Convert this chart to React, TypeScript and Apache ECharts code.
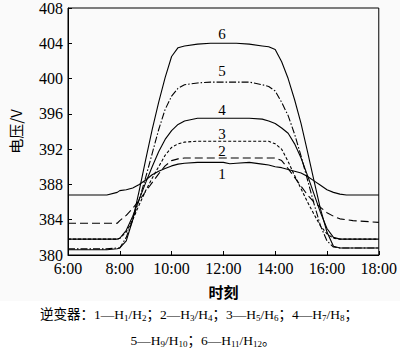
import React, { useEffect, useRef } from "react";
import * as echarts from "echarts";

// Time of day (hours) sampled for all curves
const hours = [6, 7.5, 7.9, 8, 8.25, 8.5, 8.75, 9, 9.25, 9.5, 9.75, 10, 10.25, 10.5, 11, 11.5, 12, 12.25, 12.5, 13, 13.5, 13.75, 14, 14.25, 14.5, 14.75, 15, 15.25, 15.5, 15.75, 16, 16.25, 16.5, 16.75, 17, 18];

// Voltage (V) per inverter pair
const curve1 = [386.8, 386.8, 387.1, 387.3, 387.4, 387.6, 388.0, 388.5, 389.1, 389.5, 389.8, 390.1, 390.3, 390.4, 390.5, 390.5, 390.5, 390.35, 390.4, 390.5, 390.3, 390.2, 390.0, 389.9, 389.7, 389.5, 389.3, 388.9, 388.4, 387.9, 387.4, 387.1, 386.9, 386.8, 386.8, 386.8];
const curve2 = [383.6, 383.6, 383.6, 383.9, 384.5, 385.3, 386.2, 387.2, 388.2, 389.2, 390.1, 390.7, 390.9, 391.0, 391.0, 391.0, 391.0, 391.0, 391.0, 391.0, 391.0, 391.0, 391.0, 390.7, 389.8, 388.8, 387.8, 386.8, 386.0, 385.4, 384.8, 384.4, 384.1, 384.0, 383.9, 383.7];
const curve3 = [381.8, 381.8, 381.8, 381.9, 382.6, 384.0, 385.7, 387.3, 388.7, 390.0, 391.3, 392.2, 392.6, 392.8, 392.9, 392.9, 392.9, 392.9, 392.9, 392.9, 392.9, 392.9, 392.6, 392.0, 390.6, 389.0, 387.5, 386.0, 384.6, 383.3, 382.4, 381.9, 381.8, 381.8, 381.8, 381.8];
const curve4 = [381.8, 381.8, 381.8, 381.9, 382.8, 384.4, 386.3, 388.2, 390.0, 391.7, 393.1, 394.1, 394.8, 395.2, 395.5, 395.5, 395.5, 395.5, 395.5, 395.5, 395.4, 395.2, 394.9, 394.4, 393.8, 392.6, 391.0, 389.0, 386.9, 384.8, 383.0, 382.0, 381.8, 381.8, 381.8, 381.8];
const curve5 = [380.7, 380.7, 380.8, 380.8, 382.0, 384.0, 386.3, 388.8, 391.5, 394.2, 396.5, 398.0, 398.9, 399.3, 399.5, 399.6, 399.6, 399.6, 399.6, 399.6, 399.3, 399.1, 398.6, 397.3, 395.8, 393.7, 391.2, 388.5, 385.8, 383.3, 381.6, 380.9, 380.8, 380.8, 380.8, 380.8];
const curve6 = [380.6, 380.6, 380.7, 380.8, 381.6, 384.0, 387.3, 390.8, 394.2, 397.3, 400.1, 402.5, 403.5, 403.7, 403.9, 404.0, 404.0, 404.0, 404.0, 403.9, 403.7, 403.6, 403.3, 401.9, 400.0, 397.6, 394.9, 391.7, 388.4, 385.2, 382.6, 381.0, 380.8, 380.8, 380.8, 380.8];

const curveNames = ["1", "2", "3", "4", "5", "6"];
const labelHour = 11.95;
const labelValues = [389.2, 391.8, 393.7, 396.4, 400.9, 405.0];

const xMin = 6;
const xMax = 18;
const xStep = 2;
const yMin = 380;
const yMax = 408;
const yStep = 4;

const xTitle = "时刻";
const yTitle = "电压/V";
const captionLine1 = "逆变器：1—H{s|1}/H{s|2}；2—H{s|3}/H{s|4}；3—H{s|5}/H{s|6}；4—H{s|7}/H{s|8}；";
const captionLine2 = "5—H{s|9}/H{s|10}；6—H{s|11}/H{s|12}。";

const serif = "'Liberation Serif', 'Times New Roman', 'Noto Sans CJK SC', serif";
const cjk = "'Noto Sans CJK SC', 'Liberation Serif', sans-serif";

const lineTypes: any[] = ["solid", [8, 4], [3, 2], "solid", [7, 2, 1.5, 2], "solid"];

export default function App() {
  const ref = useRef<HTMLDivElement>(null);
  useEffect(() => {
    if (!ref.current) return;
    const chart = echarts.init(ref.current, undefined, { renderer: "svg" });
    const curves = [curve1, curve2, curve3, curve4, curve5, curve6];
    const series = curves.map((c, i) => ({
      type: "line",
      name: curveNames[i],
      data: hours.map((h, j) => [h, c[j]]),
      showSymbol: false,
      symbol: "none",
      smooth: false,
      lineStyle: { color: "#000", width: 1.1, type: lineTypes[i] },
      markPoint: {
        symbol: "circle",
        symbolSize: 0,
        silent: true,
        data: [{ coord: [labelHour, labelValues[i]], value: curveNames[i] }],
        label: {
          show: true,
          position: "inside",
          formatter: curveNames[i],
          color: "#000",
          fontSize: 15,
          fontFamily: serif,
        },
      },
    }));
    const axisCommon = {
      axisLine: { show: true, lineStyle: { color: "#000", width: 1 } },
      axisTick: { show: true, inside: true, length: 4, lineStyle: { color: "#000" } },
      splitLine: { show: false },
    };
    chart.setOption({
      animation: false,
      backgroundColor: "#fafafa",
      grid: { left: 55, right: 17, top: 5, bottom: 99, show: true, borderColor: "#000", borderWidth: 1 },
      xAxis: {
        type: "value",
        min: xMin,
        max: xMax,
        interval: xStep,
        ...axisCommon,
        axisLabel: {
          color: "#000",
          fontSize: 16,
          fontFamily: serif,
          margin: 5,
          formatter: (v: number) => `${v}:00`,
        },
        name: xTitle,
        nameLocation: "middle",
        nameGap: 29,
        nameTextStyle: { color: "#000", fontSize: 15, fontWeight: "bold", fontFamily: cjk },
      },
      yAxis: {
        type: "value",
        min: yMin,
        max: yMax,
        interval: yStep,
        ...axisCommon,
        axisLabel: { color: "#000", fontSize: 16, fontFamily: serif, margin: 5 },
        name: yTitle,
        nameLocation: "middle",
        nameGap: 45,
        nameTextStyle: { color: "#000", fontSize: 15, fontFamily: cjk },
      },
      graphic: [
        {
          type: "rect",
          z: -10,
          silent: true,
          shape: { x: 0, y: 301, width: 400, height: 53 },
          style: { fill: "#ffffff" },
        },
        {
          type: "text",
          silent: true,
          style: {
            text: captionLine1,
            x: 199,
            y: 314,
            align: "center",
            verticalAlign: "middle",
            fontSize: 13.5,
            fontFamily: serif,
            fill: "#000",
            rich: { s: { fontSize: 9, fontFamily: serif, fill: "#000", padding: [7, 0, 0, 0] } },
          },
        },
        {
          type: "text",
          silent: true,
          style: {
            text: captionLine2,
            x: 203,
            y: 340,
            align: "center",
            verticalAlign: "middle",
            fontSize: 13.5,
            fontFamily: serif,
            fill: "#000",
            rich: { s: { fontSize: 9, fontFamily: serif, fill: "#000", padding: [7, 0, 0, 0] } },
          },
        },
      ],
      series,
    });
    return () => chart.dispose();
  }, []);
  return (
    <div
      ref={ref}
      style={{ position: "fixed", left: 0, top: 0, width: 400, height: 354 }}
    />
  );
}
